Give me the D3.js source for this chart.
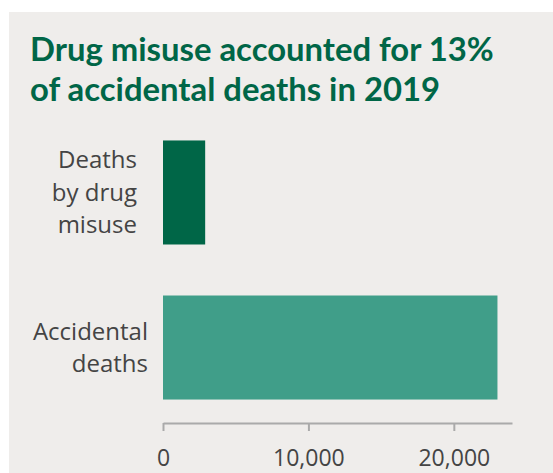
<!DOCTYPE html>
<html>
<head>
<meta charset="utf-8">
<script src="https://cdn.jsdelivr.net/npm/d3@7"></script>
<style>
  html, body { margin: 0; padding: 0; background: #ffffff; }
  svg { display: block; }
</style>
</head>
<body>
<script>
// Data
const categories = ["Deaths by drug misuse", "Accidental deaths"];
const categoryLines = [["Deaths", "by drug", "misuse"], ["Accidental", "deaths"]];
const deaths = [2900, 23000];
const tickValues = [0, 10000, 20000];
const titleLines = ["Drug misuse accounted for 13%", "of accidental deaths in 2019"];

const W = 553, H = 473;
const barColors = ["#006647", "#409e89"];

const svg = d3.select("body").append("svg")
  .attr("width", W).attr("height", H);

// Panel
svg.append("rect")
  .attr("x", 9).attr("y", 12)
  .attr("width", W - 9).attr("height", H - 12)
  .attr("fill", "#efedeb");

// Title, sized so the first line spans the header width
const title = svg.append("text")
  .attr("font-family", "Lato, 'Open Sans', sans-serif")
  .attr("font-weight", 700)
  .attr("font-size", 30)
  .attr("fill", "#006647");
const titleSpans = title.selectAll("tspan").data(titleLines).join("tspan")
  .attr("x", 30)
  .attr("y", (d, i) => 61 + i * 40)
  .text(d => d);
const firstLen = titleSpans.node().getComputedTextLength();
if (firstLen > 0) title.attr("font-size", Math.min(33, 30 * 464 / firstLen));

// Scales
const x = d3.scaleLinear().domain([0, 24000]).range([163, 512]);
const y = d3.scaleBand().domain(categories).range([120, 420])
  .paddingInner(0.329).paddingOuter(0.132);

// Bars
svg.append("g").selectAll("rect").data(categories).join("rect")
  .attr("x", x(0))
  .attr("y", d => y(d))
  .attr("width", (d, i) => x(deaths[i]) - x(0))
  .attr("height", y.bandwidth())
  .attr("fill", (d, i) => barColors[i]);

// Category labels
const labelGap = [26, 15];
const lineH = 32.5;
const labels = svg.append("g")
  .attr("font-family", "'Open Sans', sans-serif")
  .attr("font-size", 24)
  .attr("fill", "#444444")
  .attr("text-anchor", "end");
labels.selectAll("text").data(categories).join("text")
  .each(function (d, i) {
    const lines = categoryLines[i];
    const cy = y(d) + y.bandwidth() / 2;
    d3.select(this).selectAll("tspan").data(lines).join("tspan")
      .attr("x", x(0) - labelGap[i])
      .attr("y", (l, j) => cy + (j - (lines.length - 1) / 2) * lineH)
      .attr("dy", "0.35em")
      .text(l => l);
  });

// Axis
const axis = svg.append("g")
  .attr("transform", "translate(0,423)")
  .call(d3.axisBottom(x).tickValues(tickValues).tickSize(8).tickSizeOuter(0)
    .tickPadding(18.5).tickFormat(d3.format(",")));
axis.select(".domain").attr("stroke", "#aaaaaa").attr("stroke-width", 2);
axis.selectAll(".tick line").attr("stroke", "#aaaaaa").attr("stroke-width", 2);
axis.selectAll(".tick text")
  .attr("font-family", "'Open Sans', sans-serif")
  .attr("font-size", 23)
  .attr("fill", "#444444");
</script>
</body>
</html>
